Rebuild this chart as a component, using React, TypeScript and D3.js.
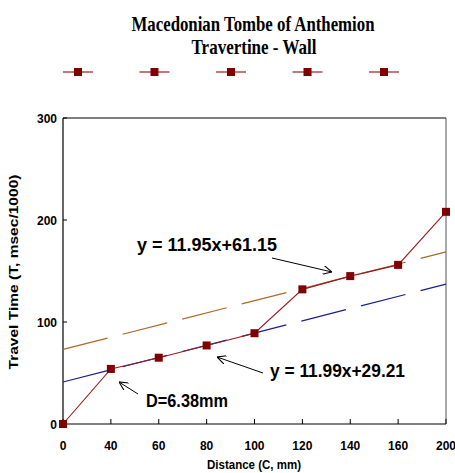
import React, { useEffect, useRef } from "react"
import * as d3 from "d3"

// distance labels (categories, equally spaced like the original sheet)
const distances = ["0", "40", "60", "80", "100", "120", "140", "160", "200"]
// travel time (T, msec/1000)
const travelTimes = [0, 54, 65, 77, 89, 132, 145, 156, 208]
const yTicks = [0, 100, 200, 300]

// trendlines y = a*x + b, x = point number (1..9)
const trendSlopes = [11.95, 11.99]
const trendIntercepts = [61.15, 29.21]
const trendColors = ["#b0682a", "#1c1c9c"]
const trendLabels = ["y = 11.95x+61.15", "y = 11.99x+29.21"]

const legendCount = 5

const W = 455
const H = 473

export default function App() {
  const svgRef = useRef<SVGSVGElement>(null)

  useEffect(() => {
    const svg = d3.select(svgRef.current)
    svg.selectAll("*").remove()

    const left = 63, right = 446, top = 118, bottom = 424
    const x = d3.scalePoint<string>().domain(distances).range([left, right]).padding(0)
    const y = d3.scaleLinear().domain([0, 300]).range([bottom, top])

    const sans = "'Liberation Sans', Arial, sans-serif"
    const serif = "'Liberation Serif', 'Times New Roman', serif"

    // title
    svg.append("text")
      .attr("x", 253).attr("y", 31)
      .attr("text-anchor", "middle")
      .attr("font-family", serif).attr("font-weight", "bold").attr("font-size", 21)
      .attr("textLength", 243).attr("lengthAdjust", "spacingAndGlyphs")
      .text("Macedonian Tombe of Anthemion")
    svg.append("text")
      .attr("x", 254).attr("y", 54)
      .attr("text-anchor", "middle")
      .attr("font-family", serif).attr("font-weight", "bold").attr("font-size", 21)
      .attr("textLength", 125).attr("lengthAdjust", "spacingAndGlyphs")
      .text("Travertine - Wall")

    // legend (entries without labels)
    const legX = d3.scaleLinear().domain([0, legendCount - 1]).range([78, 384])
    const leg = svg.append("g")
    d3.range(legendCount).forEach(i => {
      const cx = legX(i)
      leg.append("line")
        .attr("x1", cx - 15).attr("x2", cx + 15)
        .attr("y1", 72).attr("y2", 72)
        .attr("stroke", "#9b1c1c").attr("stroke-width", 1.2)
      leg.append("rect")
        .attr("x", cx - 4).attr("y", 68).attr("width", 8).attr("height", 8)
        .attr("fill", "#800000")
    })

    // frame
    svg.append("line").attr("x1", left).attr("x2", right).attr("y1", top).attr("y2", top)
      .attr("stroke", "#000").attr("stroke-width", 1)
    svg.append("line").attr("x1", right).attr("x2", right).attr("y1", top).attr("y2", bottom)
      .attr("stroke", "#555").attr("stroke-width", 1)

    // axes
    svg.append("line").attr("x1", left).attr("x2", right).attr("y1", bottom).attr("y2", bottom)
      .attr("stroke", "#000").attr("stroke-width", 1.2)
    svg.append("line").attr("x1", left).attr("x2", left).attr("y1", top).attr("y2", bottom)
      .attr("stroke", "#000").attr("stroke-width", 1.2)

    yTicks.forEach(t => {
      svg.append("line").attr("x1", left).attr("x2", left + 4)
        .attr("y1", y(t)).attr("y2", y(t)).attr("stroke", "#000")
      svg.append("text")
        .attr("x", 57).attr("y", y(t) + 4.5)
        .attr("text-anchor", "end")
        .attr("font-family", sans).attr("font-weight", "bold").attr("font-size", 12)
        .text(t)
    })

    distances.forEach(d => {
      svg.append("line").attr("x1", x(d)!).attr("x2", x(d)!)
        .attr("y1", bottom).attr("y2", bottom - 5).attr("stroke", "#000")
      svg.append("text")
        .attr("x", x(d)!).attr("y", 450)
        .attr("text-anchor", "middle")
        .attr("font-family", sans).attr("font-weight", "bold").attr("font-size", 12)
        .text(d)
    })

    svg.append("text")
      .attr("x", 254).attr("y", 469)
      .attr("text-anchor", "middle")
      .attr("font-family", sans).attr("font-weight", "bold").attr("font-size", 12)
      .attr("textLength", 94).attr("lengthAdjust", "spacingAndGlyphs")
      .text("Distance (C, mm)")

    svg.append("text")
      .attr("transform", "translate(18,272) rotate(-90)")
      .attr("text-anchor", "middle")
      .attr("font-family", sans).attr("font-weight", "bold").attr("font-size", 12)
      .attr("textLength", 195).attr("lengthAdjust", "spacingAndGlyphs")
      .text("Travel Time (T, msec/1000)")

    // trendlines
    trendSlopes.forEach((a, k) => {
      const b = trendIntercepts[k]
      const n0 = 1, n1 = distances.length
      svg.append("line")
        .attr("x1", x(distances[0])!).attr("y1", y(a * n0 + b))
        .attr("x2", x(distances[n1 - 1])!).attr("y2", y(a * n1 + b))
        .attr("stroke", trendColors[k]).attr("stroke-width", 1.2)
        .attr("stroke-dasharray", "46,15.5")
    })

    // data line + markers
    const pts = distances.map((d, i) => [x(d)!, y(travelTimes[i])] as [number, number])
    svg.append("path")
      .attr("d", d3.line()(pts)!)
      .attr("fill", "none").attr("stroke", "#9b1c1c").attr("stroke-width", 1.1)
    svg.selectAll("rect.pt").data(pts).join("rect")
      .attr("class", "pt")
      .attr("x", p => p[0] - 4).attr("y", p => p[1] - 4)
      .attr("width", 8).attr("height", 8)
      .attr("fill", "#800000")

    // annotations
    const defs = svg.append("defs")
    defs.append("marker")
      .attr("id", "openArrow").attr("viewBox", "0 0 10 10")
      .attr("refX", 10).attr("refY", 5)
      .attr("markerWidth", 9).attr("markerHeight", 9)
      .attr("markerUnits", "userSpaceOnUse")
      .attr("orient", "auto")
      .append("path").attr("d", "M0,0 L10,5 L0,10")
      .attr("fill", "none").attr("stroke", "#000").attr("stroke-width", 1.2)

    const notes = [
      { text: trendLabels[0], tx: 137, ty: 251, w: 140, ax1: 272, ay1: 258, ax2: 332, ay2: 272 },
      { text: trendLabels[1], tx: 270, ty: 377, w: 135, ax1: 263, ay1: 373, ax2: 217, ay2: 357 },
      { text: "D=6.38mm", tx: 146, ty: 407, w: 82, ax1: 138, ay1: 394, ax2: 119, ay2: 382 },
    ]
    notes.forEach(n => {
      svg.append("text")
        .attr("x", n.tx).attr("y", n.ty)
        .attr("font-family", sans).attr("font-weight", "bold").attr("font-size", 18)
        .attr("textLength", n.w).attr("lengthAdjust", "spacingAndGlyphs")
        .text(n.text)
      svg.append("line")
        .attr("x1", n.ax1).attr("y1", n.ay1).attr("x2", n.ax2).attr("y2", n.ay2)
        .attr("stroke", "#000").attr("stroke-width", 1)
        .attr("marker-end", "url(#openArrow)")
    })
  }, [])

  return (
    <svg ref={svgRef} width={W} height={H}
      style={{ position: "absolute", left: 0, top: 0, background: "#fff" }} />
  )
}
